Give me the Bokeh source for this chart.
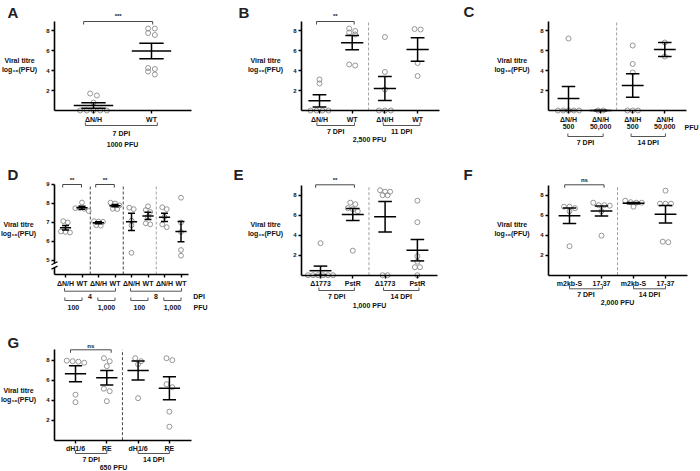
from bokeh.plotting import figure
from bokeh.models import LinearAxis, FixedTicker, Range1d
from bokeh.layouts import column, row
from bokeh.core.properties import value
from bokeh.embed import file_html
from bokeh.resources import INLINE

FONT = "Liberation Sans"
SX = 1.0
SY = 1.0
INK = "#111111"

# ------------------------------------------------------------------ data
A_cats = ["ΔN/H", "WT"]
A_points = [[1.7, 1.5, 0.8, 0, 0, 0, 0, 0],
            [8.2, 8.2, 7.75, 7.55, 4.25, 4.15, 3.9, 3.6]]
A_means = [0.5, 5.95]
A_sems = [0.27, 0.77]
A_groups = ["7 DPI"]
A_dose = "1000 PFU"
A_sig = ["***"]

B_cats = ["ΔN/H", "WT", "ΔN/H", "WT"]
B_points = [[3.1, 2.7, 0, 0, 0, 0],
            [8.2, 7.95, 7.8, 7.6, 4.6, 4.5],
            [7.35, 3.85, 2.1, 0, 0, 0],
            [8.15, 8.1, 4.75, 3.45]]
B_means = [0.97, 6.78, 2.2, 6.1]
B_sems = [0.61, 0.71, 1.2, 1.17]
B_groups = ["7 DPI", "11 DPI"]
B_dose = "2,500 PFU"
B_sig = ["**"]

C_cats = ["ΔN/H\n500", "ΔN/H\n50,000", "ΔN/H\n500", "ΔN/H\n50,000"]
C_points = [[7.2, 0, 0, 0, 0, 0],
            [0, 0],
            [6.5, 4.65, 3.8, 0, 0, 0],
            [6.8, 5.4]]
C_means = [1.2, 0.0, 2.5, 6.1]
C_sems = [1.2, 0.0, 1.17, 0.7]
C_groups = ["7 DPI", "14 DPI"]
C_unit = "PFU"

D_cats = ["ΔN/H", "WT"] * 4
D_points = [[7.07, 7.0, 6.5, 6.47, 6.52],
            [8.05, 7.75, 7.72, 7.6, 7.75],
            [7.07, 7.05, 7.03, 6.83, 6.85],
            [8.04, 8.0, 7.9, 7.72, 7.7],
            [7.78, 7.7, 7.1, 6.85, 5.4],
            [7.85, 7.65, 7.55, 7.3, 6.9, 6.95],
            [7.8, 7.7, 7.3, 6.75, 6.9],
            [8.3, 7.0, 6.5, 5.55, 5.25]]
D_means = [6.72, 7.77, 6.98, 7.88, 7.03, 7.34, 7.27, 6.52]
D_sems = [0.12, 0.08, 0.05, 0.06, 0.45, 0.19, 0.22, 0.53]
D_dpi = ["4", "8"]
D_pfu = ["100", "1,000", "100", "1,000"]
D_sig = ["**", "**"]

E_cats = ["Δ1773", "PstR", "Δ1773", "PstR"]
E_points = [[3.2, 0, 0, 0, 0, 0, 0],
            [7.25, 7.1, 6.7, 6.6, 6.4, 2.45],
            [8.5, 8.35, 8.35, 8.0, 8.0, 0, 0],
            [7.45, 5.3, 1.9, 1.35, 0.8, 0.8, 0]]
E_means = [0.45, 6.07, 5.85, 2.5]
E_sems = [0.46, 0.6, 1.53, 1.07]
E_groups = ["7 DPI", "14 DPI"]
E_dose = "1,000 PFU"
E_sig = ["**"]

F_cats = ["m2kb-S", "17-37", "m2kb-S", "17-37"]
F_points = [[6.85, 6.85, 6.7, 6.4, 2.9],
            [7.25, 7.0, 7.0, 6.95, 6.4, 3.95],
            [7.45, 7.3, 7.25, 7.25, 6.85],
            [8.45, 7.15, 7.15, 7.15, 3.3, 3.35]]
F_means = [5.94, 6.42, 7.2, 6.1]
F_sems = [0.77, 0.5, 0.06, 0.88]
F_groups = ["7 DPI", "14 DPI"]
F_dose = "2,000 PFU"
F_sig = ["ns"]

G_cats = ["dH1/6", "RE", "dH1/6", "RE"]
G_points = [[7.95, 7.9, 7.85, 7.75, 4.55, 3.8],
            [8.2, 7.9, 7.4, 5.15, 4.9, 3.9],
            [8.2, 7.9, 7.6, 4.2],
            [8.2, 8.0, 5.6, 5.3, 2.85, 1.35]]
G_means = [6.64, 6.24, 6.97, 5.2]
G_sems = [0.8, 0.73, 0.95, 1.15]
G_groups = ["7 DPI", "14 DPI"]
G_dose = "650 PFU"
G_sig = ["ns"]

YLAB1 = "Viral titre"
YLAB2 = "log₁₀(PFU)"


# ------------------------------------------------------------------ helpers
def swarm(vals, center, sp, th):
    rows = []
    for v in sorted(vals, reverse=True):
        if rows and abs(rows[-1][0] - v) <= th:
            rows[-1].append(v)
        else:
            rows.append([v])
    xs, ys = [], []
    for r in rows:
        n = len(r)
        for k, v in enumerate(r):
            xs.append(center + (k - (n - 1) / 2) * sp)
            ys.append(v)
    return xs, ys


def txt(p, x, y, s, size="7px", align="center", baseline="middle", color=INK):
    p.text(x=[x], y=[y], text=[s], text_font=value(FONT), text_font_size=size,
           text_font_style="bold", text_align=align, text_baseline=baseline,
           text_color=color)


def build(letter, cats, pts, means, sems, g):
    W, H = g["w"], g["h"]
    c1, dx, y0, dy, yb = g["c1"], g["dx"], g["y0"], g["dy"], g["ybase"]

    def X(px):
        return 1 + (px - c1) / dx

    def Y(py):
        return yb + (y0 - py) / dy

    p = figure(width=round(W * SX), height=round(H * SY),
               x_range=Range1d(X(0), X(W)), y_range=Range1d(Y(H), Y(0)),
               min_border=0, toolbar_location=None, output_backend="svg",
               x_axis_location=None, y_axis_location=None)
    p.outline_line_color = None
    p.grid.visible = False
    p.background_fill_color = "white"
    p.border_fill_color = "white"

    ax_style = dict(axis_line_color="black", axis_line_width=1.6,
                    major_tick_line_color="black", major_tick_line_width=1.4,
                    major_tick_out=3, major_tick_in=0, minor_tick_line_color=None,
                    major_label_text_font=FONT, major_label_text_font_style="bold",
                    major_label_text_color=INK)
    xl, xr = X(g["axl"]), X(g["axr"])
    ytop = g["ytop"]
    n = len(cats)

    # separators
    for sx, col, dash in g.get("seps", []):
        p.segment(x0=[sx], y0=[yb], x1=[sx], y1=[ytop], line_color=col,
                  line_width=1, line_dash=dash)

    # points
    sp = g["sp"] / dx
    th = 3.5 / dy
    px_, py_ = [], []
    for i, vals in enumerate(pts):
        xs, ys = swarm(vals, i + 1, sp, th)
        px_ += xs
        py_ += ys
    p.scatter(x=px_, y=py_, size=g.get("ms", 5), marker="circle", fill_color="white",
              fill_alpha=0.0, line_color="#8a8a8a", line_width=0.9)

    # mean +/- SEM
    x0s, y0s, x1s, y1s = [], [], [], []
    for i, (m, s) in enumerate(zip(means, sems)):
        c = i + 1
        lo, hi = max(m - s, yb), m + s
        x0s += [c, c - 0.21, c - 0.21, c - 0.34]
        x1s += [c, c + 0.21, c + 0.21, c + 0.34]
        y0s += [lo, lo, hi, m]
        y1s += [hi, lo, hi, m]
    p.segment(x0=x0s, y0=y0s, x1=x1s, y1=y1s, line_color="black", line_width=1.5)

    # axes
    if g.get("brk"):
        lo, hi = g["brk"]
        yax = LinearAxis(fixed_location=xl, bounds=(hi, ytop),
                         ticker=FixedTicker(ticks=g["yticks"]),
                         major_label_text_font_size="6px", major_label_standoff=2, **ax_style)
        yax2 = LinearAxis(fixed_location=xl, bounds=(yb, lo), ticker=FixedTicker(ticks=[]),
                          major_label_text_font_size="6px", **ax_style)
        p.add_layout(yax, "left")
        p.add_layout(yax2, "left")
        for yy in (lo, hi):
            p.segment(x0=[X(g["axl"] - 3)], y0=[yy - 1.5 / dy], x1=[X(g["axl"] + 3)],
                      y1=[yy + 1.5 / dy], line_color="black", line_width=1.2)
    else:
        yax = LinearAxis(fixed_location=xl, bounds=(yb, ytop),
                         ticker=FixedTicker(ticks=g["yticks"]),
                         major_label_text_font_size="6px", major_label_standoff=2, **ax_style)
        p.add_layout(yax, "left")
    xax = LinearAxis(fixed_location=yb, bounds=(xl, xr),
                     ticker=FixedTicker(ticks=list(range(1, n + 1))),
                     major_label_overrides={i + 1: c for i, c in enumerate(cats)},
                     major_label_text_font_size="7px", major_label_standoff=2,
                     major_label_text_line_height=1.05, **ax_style)
    p.add_layout(xax, "below")

    # panel letter and y label
    lx, ly = g["letter"]
    txt(p, X(lx), Y(ly), letter, size="15px", align="left", baseline="top", color="#222222")
    yx, yy1, yy2 = g["ylab"]
    txt(p, X(yx), Y(yy1), YLAB1, size="7px")
    txt(p, X(yx), Y(yy2), YLAB2, size="7px")

    # significance brackets
    for (i, j, lab, by, ty, el, er) in g.get("sig", []):
        xa, xb = i + 1 - el, j + 1 + er
        yv, yt = Y(by), Y(by + 3)
        p.multi_line(xs=[[xa, xa, xb, xb]], ys=[[yt, yv, yv, yt]], line_color="#333333",
                     line_width=0.9)
        txt(p, (xa + xb) / 2, Y(ty), lab, size="6px")

    # group brackets below axis
    for (i, j, lab, by, ty, el, er) in g.get("br", []):
        xa, xb = i + 1 - el, j + 1 + er
        yv, yt = Y(by), Y(by - 3)
        p.multi_line(xs=[[xa, xa, xb, xb]], ys=[[yt, yv, yv, yt]], line_color="#555555",
                     line_width=1.0)
        if lab:
            txt(p, (xa + xb) / 2, Y(ty), lab, size="7px")

    for (lab, tx, ty, al) in g.get("extra", []):
        txt(p, X(tx), Y(ty), lab, size="7px", align=al)
    return p


# ------------------------------------------------------------------ panels
gA = dict(w=230, h=157, c1=93, dx=58, y0=110, dy=10, ybase=0, ytop=8.9,
          yticks=[2, 4, 6, 8], axl=54, axr=191, letter=(7, 3), ylab=(19, 59.5, 68.5),
          sp=6.7,
          sig=[(0, 1, A_sig[0], 21, 15.5, 0.17, 0.02)],
          br=[(0, 1, A_groups[0], 125, 132.5, 0.14, 0.1)],
          extra=[(A_dose, 122, 144, "center")])
pA = build("A", A_cats, A_points, A_means, A_sems, gA)

gB = dict(w=230, h=157, c1=89, dx=32.7, y0=110, dy=10, ybase=0, ytop=8.9,
          yticks=[2, 4, 6, 8], axl=71, axr=209, letter=(8, 3), ylab=(35, 59.5, 68.5),
          sp=6.0, seps=[(2.5, "#a0a0a0", "3 2")],
          sig=[(0, 1, B_sig[0], 21, 15.5, 0.09, 0.06)],
          br=[(0, 1, B_groups[0], 125, 131, 0.08, 0.07),
              (2, 3, B_groups[1], 125, 131, 0.05, 0.07)],
          extra=[(B_dose, 139, 138.5, "center")])
pB = build("B", B_cats, B_points, B_means, B_sems, gB)

gC = dict(w=240, h=157, c1=108, dx=32.1, y0=110, dy=10, ybase=0, ytop=8.9,
          yticks=[2, 4, 6, 8], axl=88, axr=226, letter=(3, 2), ylab=(51.5, 60, 69),
          sp=5.3, seps=[(2.5, "#a0a0a0", "3 2")],
          br=[(0, 1, C_groups[0], 136, 142, 0.02, 0.08),
              (2, 3, C_groups[1], 136, 142, 0.05, 0.02)],
          extra=[(C_unit, 224, 127, "left")])
pC = build("C", C_cats, C_points, C_means, C_sems, gC)

gD = dict(w=230, h=163, c1=65, dx=16.5, y0=117, dy=19, ybase=4.26, ytop=9,
          yticks=[5, 6, 7, 8, 9], axl=54, axr=188, letter=(7, 8), ylab=(18, 67, 76),
          sp=4.5, ms=4.8, brk=(4.62, 4.85),
          seps=[(2.5, "#444444", "3 2"), (4.5, "#444444", "3 2"), (6.5, "#a0a0a0", "3 2")],
          sig=[(0, 1, D_sig[0], 27, 22.5, 0.17, -0.03), (2, 3, D_sig[1], 27, 22.5, 0.17, -0.04)],
          br=[(0, 3, D_dpi[0], 133.7, 138.5, 0.06, 0.03),
              (4, 7, D_dpi[1], 133.7, 138.5, 0.06, 0.03),
              (0, 1, D_pfu[0], 143, 150, 0.04, 0.0),
              (2, 3, D_pfu[1], 143, 150, 0.04, 0.0),
              (4, 5, D_pfu[2], 143, 150, 0.04, 0.0),
              (6, 7, D_pfu[3], 143, 150, 0.04, 0.0)],
          extra=[("DPI", 198.5, 138.5, "center"), ("PFU", 200, 150, "center")])
pD = build("D", D_cats, D_points, D_means, D_sems, gD)

gE = dict(w=230, h=163, c1=90, dx=32.3, y0=117.7, dy=10, ybase=0, ytop=8.97,
          yticks=[2, 4, 6, 8], axl=71, axr=207, letter=(3, 8), ylab=(35, 67, 76),
          sp=5.0, seps=[(2.5, "#a0a0a0", "3 2")],
          sig=[(0, 1, E_sig[0], 27.3, 22, 0.15, 0.05)],
          br=[(0, 1, E_groups[0], 133, 139, 0.05, 0.05),
              (2, 3, E_groups[1], 133, 139, 0.05, 0.05)],
          extra=[(E_dose, 139, 148, "center")])
pE = build("E", E_cats, E_points, E_means, E_sems, gE)

gF = dict(w=240, h=163, c1=109, dx=32, y0=117.7, dy=10, ybase=0, ytop=8.97,
          yticks=[2, 4, 6, 8], axl=88, axr=227, letter=(3, 8), ylab=(51.5, 67, 76),
          sp=5.5, seps=[(2.5, "#a0a0a0", "3 2")],
          sig=[(0, 1, F_sig[0], 27.3, 22, 0.15, 0.08)],
          br=[(0, 1, F_groups[0], 131.3, 137.3, 0.0, 0.03),
              (2, 3, F_groups[1], 131.3, 137.3, 0.0, 0.0)],
          extra=[(F_dose, 157, 144.7, "center")])
pF = build("F", F_cats, F_points, F_means, F_sems, gF)

gG = dict(w=230, h=151, c1=75, dx=31.3, y0=119.7, dy=10, ybase=0, ytop=9.04,
          yticks=[2, 4, 6, 8], axl=54, axr=191, letter=(7, 13), ylab=(18, 70, 78.5),
          sp=5.8, seps=[(2.5, "#444444", "3 2")],
          sig=[(0, 1, G_sig[0], 29.3, 25, 0.16, 0.14)],
          br=[(0, 1, G_groups[0], 133, 139, 0.0, 0.0),
              (2, 3, G_groups[1], 133, 139, 0.0, 0.0)],
          extra=[(G_dose, 113, 147, "center")])
pG = build("G", G_cats, G_points, G_means, G_sems, gG)

layout = column(row(pA, pB, pC), row(pD, pE, pF), row(pG))
open("out.html", "w").write(file_html(layout, INLINE))
